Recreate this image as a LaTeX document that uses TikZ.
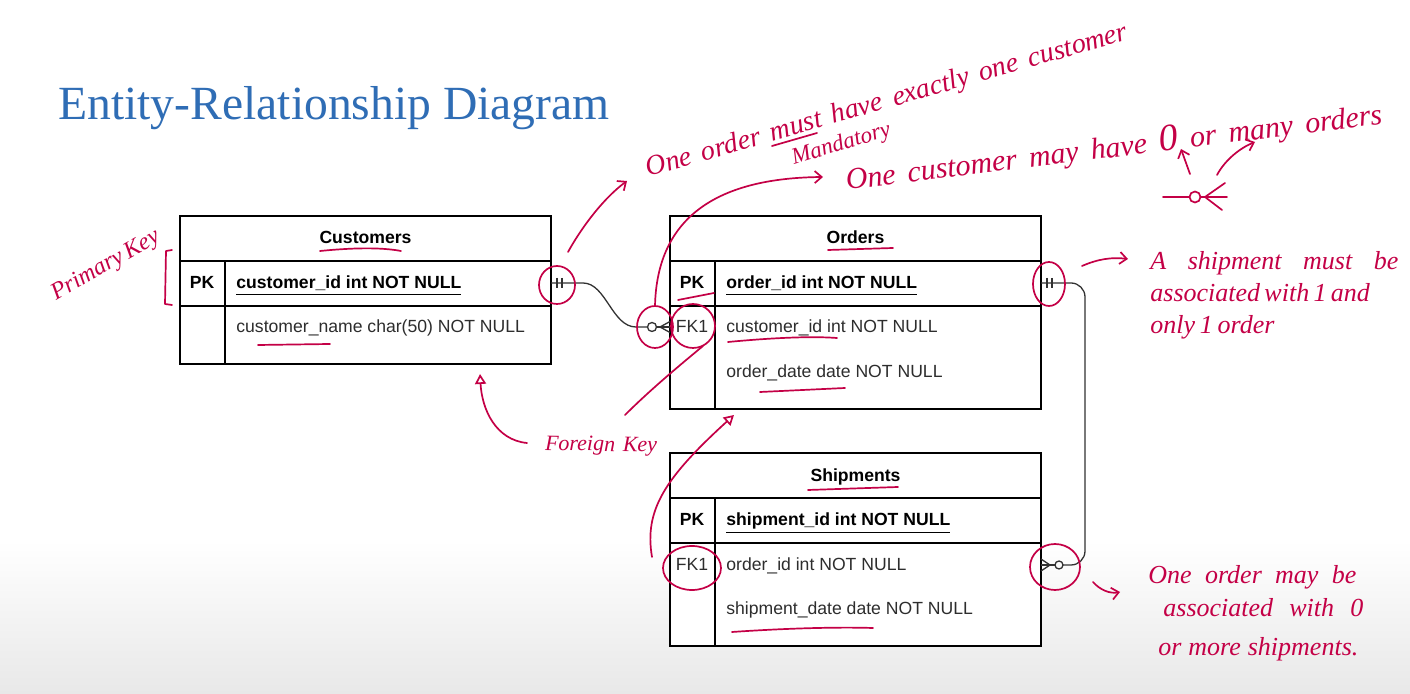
\documentclass[tikz,border=0pt]{standalone}
\usepackage{fontspec}
\setmainfont{Liberation Sans}
\newfontfamily\titlefont{Liberation Serif}
\newfontfamily\handfont{Liberation Serif}
\usetikzlibrary{arrows.meta,fit,calc}
\definecolor{ink}{RGB}{196,0,70}
\definecolor{titleblue}{RGB}{47,109,181}
\definecolor{edgegray}{RGB}{50,50,50}
\definecolor{txtgray}{RGB}{45,45,45}
\newcommand\keyul[1]{\underline{#1}}
\begin{document}
\begin{tikzpicture}[x=0.5pt,y=-0.5pt,
  tblbox/.style={draw=black, line width=0.75pt, fill=white, inner sep=0pt},
  tblline/.style={draw=black, line width=0.75pt},
  cell/.style={font=\fontsize{8.8}{10}\selectfont, text=txtgray, inner sep=0pt, anchor=base west},
  bcell/.style={cell, font=\bfseries\fontsize{8.8}{10}\selectfont, text=black},
  hdr/.style={bcell, anchor=base},
  keytag/.style={cell, anchor=base},
  conn/.style={draw=edgegray, line width=0.65pt},
  hand/.style={draw=ink, line width=0.85pt, line cap=round, line join=round},
  handtext/.style={text=ink, inner sep=0pt, anchor=base, font={\handfont\itshape\fontsize{#1}{#1}\selectfont}},
  barb/.style={-{Straight Barb[length=3.5pt,width=6pt]}},
  otri/.style={-{Triangle[open,length=5pt,width=5.5pt]}}
]
\useasboundingbox (0,0) rectangle (1410,694);
\fill[white] (0,0) rectangle (1410,694);
\shade[top color=white,bottom color=black!9] (0,540) rectangle (1410,694);

% title
\node[anchor=base west, text=titleblue, inner sep=0pt,
      font=\titlefont\fontsize{23.8}{24}\selectfont] (title) at (58,120) {Entity-Relationship Diagram};

% ---------- Customers ----------
\node[tblbox, fit={(180,216) (551,364)}] (cust) {};
\draw[tblline] (180,261) -- (551,261);
\draw[tblline] (180,306) -- (551,306);
\draw[tblline] (225,261) -- (225,364);
\node[hdr] (custT) at (365.5,244) {Customers};
\node[bcell, anchor=base] (custPK) at (202,289) {PK};
\node[bcell] (custId) at (236,289) {\keyul{customer\_id int NOT NULL}};
\node[cell] (custName) at (236,333) {customer\_name char(50) NOT NULL};

% ---------- Orders ----------
\node[tblbox, fit={(670,216) (1041,409)}] (ord) {};
\draw[tblline] (670,261) -- (1041,261);
\draw[tblline] (670,306) -- (1041,306);
\draw[tblline] (715,261) -- (715,409);
\node[hdr] (ordT) at (855.5,244) {Orders};
\node[bcell, anchor=base] (ordPK) at (692,289) {PK};
\node[bcell] (ordId) at (726,289) {\keyul{order\_id int NOT NULL}};
\node[keytag] (ordFK) at (692,333) {FK1};
\node[cell] (ordCust) at (726,333) {customer\_id int NOT NULL};
\node[cell] (ordDate) at (726,378) {order\_date date NOT NULL};

% ---------- Shipments ----------
\node[tblbox, fit={(670,453) (1041,646)}] (shp) {};
\draw[tblline] (670,498) -- (1041,498);
\draw[tblline] (670,543) -- (1041,543);
\draw[tblline] (715,498) -- (715,646);
\node[hdr] (shpT) at (855.5,482) {Shipments};
\node[bcell, anchor=base] (shpPK) at (692,526) {PK};
\node[bcell] (shpId) at (726,526) {\keyul{shipment\_id int NOT NULL}};
\node[keytag] (shpFK) at (692,571) {FK1};
\node[cell] (shpOrd) at (726,571) {order\_id int NOT NULL};
\node[cell] (shpDate) at (726,615) {shipment\_date date NOT NULL};

% ---------- relationship Customers -> Orders ----------
\coordinate (c1) at (551,283);
\coordinate (o1) at (670,327);
\coordinate (cc) at (652,327);
\draw[conn] (c1) -- (583,283) .. controls (606,283) and (612,327) .. (636,327) -- ($(cc)+(-4.5,0)$);
\draw[conn] (cc) circle[radius=4.5];
\draw[conn] ($(cc)+(4.5,0)$) -- (o1);
\draw[conn] (660,327) -- (670,321.5);
\draw[conn] (660,327) -- (670,332.5);
\draw[conn] (557,278) -- (557,288);
\draw[conn] (562,278) -- (562,288);

% ---------- relationship Orders -> Shipments ----------
\coordinate (o2) at (1041,283);
\coordinate (s2) at (1041,565);
\coordinate (sc) at (1059,565);
\draw[conn, rounded corners=7] (o2) -- (1085,283) -- (1085,565) -- ($(sc)+(4,0)$);
\draw[conn] (sc) circle[radius=4];
\draw[conn] ($(sc)+(-4,0)$) -- (s2);
\draw[conn] (1041,559) -- (1050,565) -- (1041,571);
\draw[conn] (1047,278) -- (1047,288);
\draw[conn] (1052,278) -- (1052,288);

% ---------- handwritten annotations ----------
% Primary key
\node[handtext=12, rotate=30] (pkText) at (108,271) {\makebox[60pt][s]{Primary Key}};
\draw[hand] (172,250) -- (166,251) -- (165,304) -- (172,305);

% red circles
\draw[hand] (557,285) ellipse[x radius=18, y radius=19];
\draw[hand] (655,327) ellipse[x radius=18, y radius=21];
\draw[hand] (693,326) ellipse[x radius=22, y radius=22];
\draw[hand] (1049,284) ellipse[x radius=16, y radius=22];
\draw[hand] (1055,567) ellipse[x radius=25, y radius=23];
\draw[hand] (692,568) ellipse[x radius=29, y radius=22];

% red underlines
\draw[hand] (320,251) .. controls (350,248) and (380,247) .. (401,251);
\draw[hand] (258,345) -- (330,344);
\draw[hand] (828,250) -- (893,248);
\draw[hand] (678,300) -- (714,293);
\draw[hand] (728,342) .. controls (770,338) and (810,336) .. (837,338);
\draw[hand] (760,392) -- (845,388);
\draw[hand] (808,490) -- (898,487);
\draw[hand] (732,632) .. controls (790,628) and (840,627) .. (873,628);

% top annotation: one order must have exactly one customer
\node[handtext=14, rotate=16] (mustText) at (889,108) {\makebox[250pt][s]{One order must have exactly one customer}};
\draw[hand] (772,146) -- (817,133);
\node[handtext=11.5, rotate=17] (mandText) at (843,150) {Mandatory};
\draw[hand, barb] (568,252) .. controls (583,225) and (605,197) .. (627,181);

% one customer may have 0 or many orders
\node[handtext=15, rotate=7] (mayText) at (1115,157) {\makebox[270pt][s]{One customer may have {\fontsize{19}{19}\selectfont 0} or many orders}};
\draw[hand, barb] (655,306) .. controls (657,215) and (720,178) .. (823,177);

% legend symbol -o<
\coordinate (symC) at (1195,197);
\draw[hand] (1163,197) -- ($(symC)+(-5.5,0)$);
\draw[hand] (symC) circle[radius=5.5];
\draw[hand] ($(symC)+(5.5,0)$) -- (1227,197);
\draw[hand] (1225,183) -- (1205,197) -- (1222,210);
\draw[hand, barb] (1190,174) -- (1181,149);
\draw[hand, barb] (1217,175) .. controls (1225,160) and (1240,148) .. (1255,142);

% shipment must be associated with 1 and only 1 order
\draw[hand, barb] (1082,266) .. controls (1098,259) and (1112,257) .. (1128,259);
\node[handtext=13, anchor=base west] (shipA) at (1150,270) {\makebox[124pt][s]{A shipment must be}};
\node[handtext=13, anchor=base west] (shipB) at (1150,302) {\makebox[108pt][s]{associated with 1 and}};
\node[handtext=13, anchor=base west] (shipC) at (1150,334) {\makebox[62pt][s]{only 1 order}};

% one order may be associated with 0 or more shipments
\draw[hand, barb] (1093,582) .. controls (1100,590) and (1110,594) .. (1120,592);
\node[handtext=13, anchor=base west] (ordA) at (1148,584) {\makebox[104pt][s]{One order may be}};
\node[handtext=13, anchor=base west] (ordB) at (1163,617) {\makebox[100pt][s]{associated with 0}};
\node[handtext=13, anchor=base west] (ordC) at (1158,656) {\makebox[100pt][s]{or more shipments.}};

% foreign key
\node[handtext=11, rotate=-1] (fkText) at (601,451) {\makebox[56pt][s]{Foreign Key}};
\draw[hand, otri] (527,443) .. controls (496,440) and (482,410) .. (480,374);
\draw[hand] (625,415) .. controls (650,390) and (680,365) .. (703,346);
\draw[hand, otri] (652,557) .. controls (644,510) and (665,478) .. (734,415);
\end{tikzpicture}
\end{document}
